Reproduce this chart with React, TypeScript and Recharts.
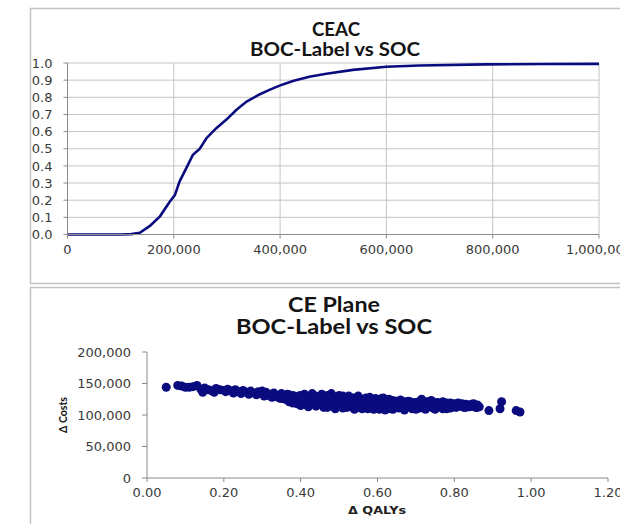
import React from "react";
import {
  LineChart,
  Line,
  XAxis,
  YAxis,
  CartesianGrid,
  ScatterChart,
  Scatter,
} from "recharts";

const NAVY = "#0b0b80";

// CEAC: willingness-to-pay thresholds and probability cost-effective
const ceacWtp = [
  0, 100000, 120000, 136000, 155000, 174000, 192000, 202000, 211000, 224000,
  236000, 249000, 261000, 280000, 299000, 318000, 337000, 362000, 380000,
  399000, 424000, 455000, 487000, 537000, 600000, 662000, 787000, 900000,
  1000000,
];
const ceacProb = [
  0, 0, 0.002, 0.01, 0.05, 0.106, 0.19, 0.23, 0.31, 0.39, 0.465, 0.5, 0.56,
  0.62, 0.67, 0.727, 0.775, 0.818, 0.843, 0.868, 0.895, 0.92, 0.937, 0.96,
  0.978, 0.985, 0.992, 0.994, 0.995,
];
const ceacXTicks = [0, 200000, 400000, 600000, 800000, 1000000];
const ceacYTicks = [0, 0.1, 0.2, 0.3, 0.4, 0.5, 0.6, 0.7, 0.8, 0.9, 1.0];

// CE plane: incremental QALYs and incremental costs
const scatterQaly = [
  0.05, 0.08, 0.09, 0.1, 0.11, 0.12, 0.13, 0.14, 0.145, 0.15, 0.16, 0.17,
  0.175, 0.18, 0.19, 0.2, 0.205, 0.21, 0.22, 0.225, 0.23, 0.24, 0.245, 0.25,
  0.26, 0.265, 0.27, 0.28, 0.285, 0.29, 0.3, 0.305, 0.31, 0.32, 0.325, 0.33,
  0.34, 0.345, 0.35, 0.355, 0.36, 0.365, 0.37, 0.375, 0.38, 0.385, 0.39,
  0.395, 0.4, 0.405, 0.41, 0.415, 0.42, 0.425, 0.43, 0.435, 0.44, 0.445, 0.45,
  0.455, 0.46, 0.465, 0.47, 0.475, 0.48, 0.485, 0.49, 0.495, 0.5, 0.505, 0.51,
  0.515, 0.52, 0.525, 0.53, 0.535, 0.54, 0.545, 0.55, 0.555, 0.56, 0.565,
  0.57, 0.575, 0.58, 0.585, 0.59, 0.595, 0.6, 0.605, 0.61, 0.615, 0.62, 0.625,
  0.63, 0.635, 0.64, 0.645, 0.65, 0.655, 0.66, 0.665, 0.67, 0.675, 0.68,
  0.685, 0.69, 0.695, 0.7, 0.705, 0.71, 0.715, 0.72, 0.725, 0.73, 0.735, 0.74,
  0.745, 0.75, 0.755, 0.76, 0.765, 0.77, 0.775, 0.78, 0.785, 0.79, 0.795, 0.8,
  0.805, 0.81, 0.815, 0.82, 0.825, 0.83, 0.835, 0.84, 0.845, 0.85, 0.86,
  0.865, 0.89, 0.919, 0.923, 0.961, 0.971,
  0.36, 0.37, 0.38, 0.39, 0.4, 0.41, 0.42, 0.43, 0.44, 0.45, 0.46, 0.47, 0.48,
  0.49, 0.5, 0.51, 0.52, 0.53, 0.54, 0.55, 0.56, 0.57, 0.58, 0.59, 0.6, 0.61,
  0.62, 0.63, 0.64, 0.65, 0.66, 0.67, 0.68, 0.69, 0.7, 0.71, 0.72, 0.73, 0.74,
  0.75, 0.76, 0.77, 0.78, 0.79, 0.8, 0.82, 0.84, 0.855,
  0.3, 0.31, 0.33, 0.35, 0.37, 0.38, 0.4, 0.42, 0.43, 0.44, 0.46, 0.47, 0.49,
  0.5, 0.51, 0.52, 0.53, 0.54, 0.55, 0.56, 0.57, 0.58, 0.59, 0.6, 0.61, 0.62,
  0.63, 0.64, 0.65, 0.66, 0.67, 0.68, 0.69, 0.7, 0.71, 0.72, 0.73, 0.74, 0.75,
  0.76, 0.77, 0.78, 0.79, 0.8, 0.81, 0.83, 0.85, 0.86,
];
const scatterCost = [
  144000, 147000, 146000, 144000, 144000, 145000, 147000, 141000, 136000,
  143000, 140000, 138000, 136000, 142000, 140000, 139000, 137000, 141000,
  138000, 135000, 140000, 137000, 134000, 139000, 136000, 133000, 138000,
  135000, 132000, 137000, 134000, 130000, 136000, 132000, 128000, 135000,
  131000, 127000, 134000, 129000, 125000, 133000, 121000, 128000, 131000,
  124000, 118000, 130000, 126000, 121000, 133000, 116000, 128000, 123000,
  118000, 131000, 114000, 126000, 121000, 133000, 117000, 129000, 112000,
  124000, 134000, 119000, 128000, 114000, 131000, 122000, 111000, 126000,
  117000, 130000, 113000, 124000, 120000, 128000, 112000, 125000, 116000,
  121000, 127000, 110000, 118000, 124000, 114000, 126000, 119000, 109000,
  123000, 127000, 113000, 117000, 121000, 110000, 119000, 114000, 122000,
  111000, 117000, 120000, 112000, 118000, 115000, 121000, 110000, 117000,
  113000, 119000, 111000, 125000, 116000, 109000, 121000, 114000, 118000,
  111000, 116000, 120000, 113000, 117000, 110000, 115000, 119000, 112000,
  116000, 114000, 118000, 112000, 116000, 114000, 118000, 112000, 117000,
  115000, 113000, 117000, 114000, 116000, 113000, 107000, 110000, 121000,
  107000, 104700,
  130000, 127000, 122000, 126000, 131000, 124000, 119000, 127000, 122000,
  128000, 124000, 120000, 127000, 122000, 117000, 125000, 121000, 128000,
  115000, 119000, 124000, 117000, 113000, 120000, 124000, 116000, 120000,
  115000, 123000, 117000, 113000, 121000, 118000, 114000, 120000, 116000,
  121000, 113000, 115000, 112000, 119000, 114000, 116000, 111000, 115000,
  114000, 116000, 112000,
  138000, 131000, 129000, 126000, 132000, 119000, 115000, 113000, 134000,
  129000, 112000, 131000, 110000, 125000, 130000, 112000, 120000, 109000,
  130000, 110000, 122000, 128000, 109000, 113000, 126000, 108000, 125000,
  109000, 113000, 124000, 108000, 122000, 120000, 109000, 122000, 112000,
  118000, 123000, 109000, 115000, 121000, 110000, 119000, 113000, 119000,
  112000, 118000, 112000,
];
const planeXTicks = [0, 0.2, 0.4, 0.6, 0.8, 1.0, 1.2];
const planeYTicks = [0, 50000, 100000, 150000, 200000];

const ceacData = ceacWtp.map((w, i) => ({ wtp: w, p: ceacProb[i] }));
const planeData = scatterQaly.map((q, i) => ({ q, c: scatterCost[i] }));

const tickFont = {
  fontFamily: "DejaVu Sans",
  fontSize: 13,
  fill: "#3a3a3a",
};
const titleFont = "Lato, 'Open Sans', sans-serif";
const AXIS = "#8a8a8a";

const fmtThousands = (v: number) => v.toLocaleString("en-US");

export default function App() {
  return (
    <div
      style={{
        position: "absolute",
        left: 0,
        top: 0,
        width: 620,
        height: 524,
        background: "#ffffff",
        overflow: "hidden",
      }}
    >
      <div style={{ position: "absolute", left: 0, top: 0 }}>
        <LineChart
          width={620}
          height={290}
          data={ceacData}
          margin={{ top: 63, right: 21, left: 27.5, bottom: 25.5 }}
        >
          <CartesianGrid stroke="#c4c4c4" strokeWidth={1} />
          <XAxis
            type="number"
            dataKey="wtp"
            domain={[0, 1000000]}
            ticks={ceacXTicks}
            tickFormatter={fmtThousands}
            height={30}
            tick={tickFont}
            axisLine={{ stroke: AXIS }}
            tickLine={{ stroke: AXIS }}
            tickSize={4}
            tickMargin={6}
            interval={0}
          />
          <YAxis
            type="number"
            domain={[0, 1]}
            ticks={ceacYTicks}
            tickFormatter={(v: number) => v.toFixed(1)}
            width={40}
            tick={tickFont}
            axisLine={{ stroke: AXIS }}
            tickLine={{ stroke: AXIS }}
            tickSize={4}
            tickMargin={11}
            interval={0}
          />
          <Line
            type="linear"
            dataKey="p"
            stroke={NAVY}
            strokeWidth={2.6}
            dot={false}
            isAnimationActive={false}
          />
        </LineChart>
      </div>

      <div style={{ position: "absolute", left: 0, top: 290 }}>
        <ScatterChart
          width={620}
          height={234}
          margin={{ top: 62, right: 12, left: 87, bottom: 16 }}
        >
          <XAxis
            type="number"
            dataKey="q"
            domain={[0, 1.2]}
            ticks={planeXTicks}
            tickFormatter={(v: number) => v.toFixed(2)}
            height={30}
            tick={tickFont}
            axisLine={{ stroke: AXIS }}
            tickLine={{ stroke: AXIS }}
            tickSize={4}
            tickMargin={6}
            interval={0}
          />
          <YAxis
            type="number"
            dataKey="c"
            domain={[0, 200000]}
            ticks={planeYTicks}
            tickFormatter={fmtThousands}
            width={60}
            tick={tickFont}
            axisLine={{ stroke: AXIS }}
            tickLine={{ stroke: AXIS }}
            tickSize={5}
            tickMargin={11}
            interval={0}
          />
          <Scatter
            data={planeData}
            isAnimationActive={false}
            shape={(p: any) => (
              <circle cx={p.cx} cy={p.cy} r={4.5} fill={NAVY} />
            )}
          />
        </ScatterChart>
      </div>

      <svg
        width={620}
        height={524}
        style={{ position: "absolute", left: 0, top: 0, pointerEvents: "none" }}
      >
        <rect
          x={30.5}
          y={8.5}
          width={620}
          height={275}
          fill="none"
          stroke="#c2c2c2"
          strokeWidth={1.5}
        />
        <rect
          x={30.5}
          y={287.5}
          width={620}
          height={260}
          fill="none"
          stroke="#c2c2c2"
          strokeWidth={1.5}
        />
        <g fontFamily={titleFont} fontWeight="bold" fill="#141414">
          <text x={336} y={36} fontSize={18} textAnchor="middle" textLength={48} lengthAdjust="spacingAndGlyphs">
            CEAC
          </text>
          <text x={335} y={56} fontSize={18} textAnchor="middle" textLength={170} lengthAdjust="spacingAndGlyphs">
            BOC-Label vs SOC
          </text>
          <text x={334} y={312} fontSize={20} textAnchor="middle" textLength={92} lengthAdjust="spacingAndGlyphs">
            CE Plane
          </text>
          <text x={334} y={334} fontSize={20} textAnchor="middle" textLength={196} lengthAdjust="spacingAndGlyphs">
            BOC-Label vs SOC
          </text>
          <text
            x={0}
            y={0}
            fontSize={12}
            textAnchor="middle"
            textLength={36}
            lengthAdjust="spacingAndGlyphs"
            transform="translate(67,415) rotate(-90)"
          >
            Δ Costs
          </text>
        </g>
        <text
          x={377}
          y={514}
          fontFamily="DejaVu Sans"
          fontWeight="bold"
          fontSize={11}
          fill="#222"
          textAnchor="middle"
          textLength={58}
          lengthAdjust="spacingAndGlyphs"
        >
          Δ QALYs
        </text>
      </svg>
    </div>
  );
}
